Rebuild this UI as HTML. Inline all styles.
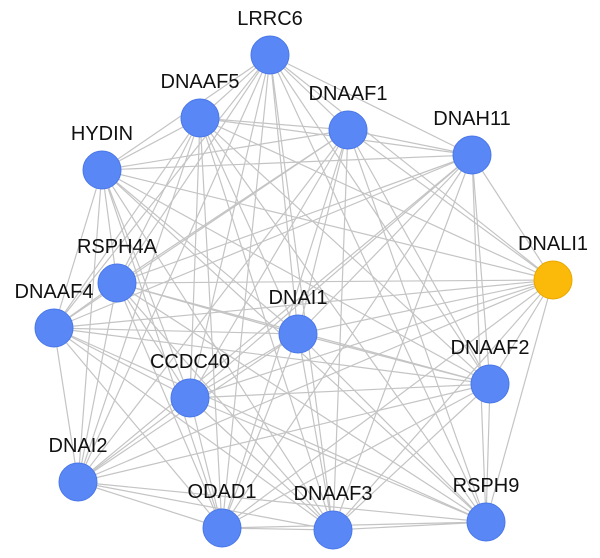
<!DOCTYPE html>
<html><head><meta charset="utf-8"><style>
html,body{margin:0;padding:0;background:#fff;}
svg{display:block;}
text{font-family:"Liberation Sans",sans-serif;font-size:20px;fill:#111;text-anchor:middle;}
</style></head><body>
<svg id="g" width="600" height="558" xmlns="http://www.w3.org/2000/svg">
<g id="edges" stroke="#c4c4c4" stroke-width="1.2"></g>
<g id="nodes"></g>
</svg>
<script>
const N=[
["LRRC6",270,55],["DNAAF5",200,118],["DNAAF1",348,130],["DNAH11",472,155],
["HYDIN",102,170],["DNALI1",553,280,1],["RSPH4A",117,283],["DNAAF4",54,328],
["DNAI1",298,334],["DNAAF2",490,384],["CCDC40",190,398],["DNAI2",78,482],
["ODAD1",222,528],["DNAAF3",333,530],["RSPH9",486,522]];
const ns="http://www.w3.org/2000/svg";
const E=document.getElementById("edges"),G=document.getElementById("nodes");
for(let i=0;i<N.length;i++)for(let j=i+1;j<N.length;j++){
 const l=document.createElementNS(ns,"line");
 l.setAttribute("x1",N[i][1]);l.setAttribute("y1",N[i][2]);
 l.setAttribute("x2",N[j][1]);l.setAttribute("y2",N[j][2]);E.appendChild(l);}
for(const n of N){
 const c=document.createElementNS(ns,"circle");
 c.setAttribute("cx",n[1]);c.setAttribute("cy",n[2]);c.setAttribute("r",19);
 c.setAttribute("fill",n[3]?"#fbb909":"#5a87f6");
 c.setAttribute("stroke",n[3]?"#e8a800":"#4a78e8");c.setAttribute("stroke-width",1);
 G.appendChild(c);
 const t=document.createElementNS(ns,"text");
 t.setAttribute("x",n[1]);t.setAttribute("y",n[2]-30);t.textContent=n[0];G.appendChild(t);}
</script>
</body></html>
